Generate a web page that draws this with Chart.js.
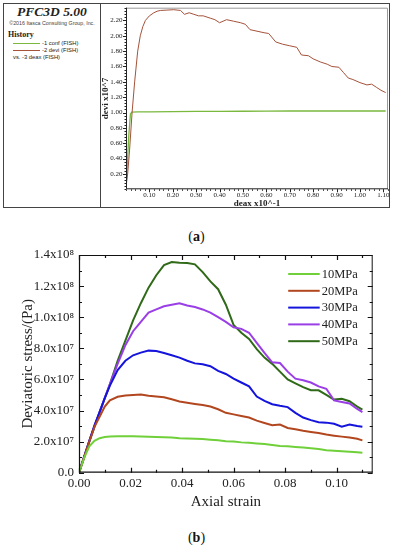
<!DOCTYPE html>
<html>
<head>
<meta charset="utf-8">
<script src="https://cdn.jsdelivr.net/npm/chart.js@4.4.0/dist/chart.umd.min.js"></script>
<style>
  body { margin: 0; width: 393px; height: 550px; background: #fff; position: relative; overflow: hidden; font-family: 'Liberation Serif', serif; color: #222; }
  #boxA { position: absolute; left: 3px; top: 3px; width: 387px; height: 205px; border: 1px solid #444; box-sizing: border-box; }
  #divider { position: absolute; left: 100px; top: 3px; width: 1px; height: 205px; background: #444; }
  .t { position: absolute; white-space: nowrap; }
  #pfc { left: 4px; width: 96px; top: 4px; text-align: center; font: italic bold 13.5px 'Liberation Serif'; }
  #copy { left: 4px; width: 96px; top: 20px; text-align: center; font: 5.3px 'Liberation Sans'; color: #444; }
  #hist { left: 8px; top: 30px; font: bold 8px 'Liberation Serif'; }
  .leg { font: 5.8px 'Liberation Sans'; left: 42px; }
  .sw { position: absolute; left: 13px; width: 27px; height: 1px; }
  #chartA { position: absolute; left: 100px; top: 0; }
  #chartB { position: absolute; left: 0; top: 240px; }
  .cap { position: absolute; width: 393px; text-align: center; font: 14px 'Liberation Serif'; color: #111; }
</style>
</head>
<body>
<div id="boxA"></div>
<div id="divider"></div>
<div class="t" id="pfc">PFC3D 5.00</div>
<div class="t" id="copy">©2016 Itasca Consulting Group, Inc.</div>
<div class="t" id="hist">History</div>
<div class="sw" id="swConf" style="top:43px"></div>
<div class="t leg" style="top:39.5px">-1 conf (FISH)</div>
<div class="sw" id="swDevi" style="top:50px"></div>
<div class="t leg" style="top:46.5px">-2 devi (FISH)</div>
<div class="t leg" style="left:13px;top:53.5px">vs. -3 deax (FISH)</div>
<canvas id="chartA" width="293" height="210"></canvas>
<div class="cap" style="top:229px">(<b>a</b>)</div>
<canvas id="chartB" width="393" height="280"></canvas>
<div class="cap" style="top:530px">(<b>b</b>)</div>
<script>
// ---- panel (a): PFC3D history ----
const deaxConf = [0, 0.005, 0.012, 0.019, 0.025, 0.05, 0.1, 0.2, 0.3, 0.4, 0.5, 0.6, 0.7, 0.8, 0.9, 1.0, 1.11];
const conf = [0.03, 0.3, 0.7, 0.98, 1.005, 1.01, 1.01, 1.012, 1.014, 1.015, 1.017, 1.018, 1.02, 1.02, 1.02, 1.02, 1.02];
const deaxDevi = [0, 0.007, 0.015, 0.026, 0.037, 0.05, 0.061, 0.072, 0.083, 0.1, 0.119, 0.133, 0.147, 0.175, 0.204, 0.233,
  0.25, 0.27, 0.29, 0.31, 0.33, 0.36, 0.38, 0.40, 0.43, 0.46, 0.49, 0.51, 0.53, 0.56, 0.59, 0.61, 0.64, 0.67, 0.70,
  0.73, 0.75, 0.78, 0.80, 0.83, 0.86, 0.88, 0.91, 0.93, 0.95, 0.97, 1.00, 1.03, 1.05, 1.07, 1.09, 1.11];
const devi = [0.03, 0.2, 0.5, 1.0, 1.4, 1.8, 2.0, 2.12, 2.2, 2.26, 2.3, 2.32, 2.33, 2.335, 2.34, 2.33,
  2.28, 2.30, 2.28, 2.26, 2.26, 2.23, 2.21, 2.17, 2.21, 2.19, 2.17, 2.15, 2.08, 2.06, 2.04, 2.03, 1.92, 1.89, 1.87,
  1.85, 1.75, 1.74, 1.70, 1.66, 1.63, 1.60, 1.59, 1.52, 1.45, 1.43, 1.39, 1.36, 1.37, 1.33, 1.29, 1.26];
const xTicksA = [0.1, 0.2, 0.3, 0.4, 0.5, 0.6, 0.7, 0.8, 0.9, 1.0, 1.1];
const yTicksA = [0.2, 0.4, 0.6, 0.8, 1.0, 1.2, 1.4, 1.6, 1.8, 2.0, 2.2];

// ---- panel (b): deviatoric stress (x10^7 Pa) vs axial strain ----
const strain = [0, 0.002, 0.004, 0.006, 0.008, 0.010, 0.012, 0.015, 0.018, 0.021, 0.024, 0.027, 0.030, 0.033,
  0.036, 0.039, 0.042, 0.045, 0.048, 0.051, 0.054, 0.057, 0.060, 0.063, 0.066, 0.069, 0.072, 0.075, 0.078,
  0.081, 0.084, 0.087, 0.090, 0.093, 0.096, 0.099, 0.102, 0.105, 0.108, 0.110];
const s10 = [0, 0.95, 1.7, 2.05, 2.22, 2.3, 2.33, 2.35, 2.35, 2.34, 2.33, 2.31, 2.30, 2.28, 2.26, 2.22, 2.20, 2.19,
  2.16, 2.12, 2.08, 2.03, 2.00, 1.95, 1.92, 1.88, 1.84, 1.78, 1.72, 1.70, 1.66, 1.62, 1.57, 1.52, 1.44, 1.41,
  1.38, 1.35, 1.32, 1.29];
const s20 = [0, 1.0, 2.0, 2.95, 3.6, 4.25, 4.65, 4.88, 4.97, 5.0, 5.03, 4.95, 4.9, 4.85, 4.72, 4.58, 4.5, 4.42,
  4.35, 4.26, 4.08, 3.85, 3.75, 3.65, 3.55, 3.35, 3.2, 3.05, 3.1, 2.88, 2.8, 2.7, 2.62, 2.55, 2.45, 2.38, 2.32,
  2.27, 2.18, 2.08];
const s30 = [0, 1.02, 2.05, 3.05, 3.9, 4.8, 5.6, 6.6, 7.2, 7.55, 7.72, 7.85, 7.82, 7.7, 7.55, 7.4, 7.2, 7.03,
  6.97, 6.85, 6.55, 6.35, 6.05, 5.8, 5.55, 4.9, 4.62, 4.4, 4.3, 4.22, 3.85, 3.55, 3.38, 3.25, 3.22, 3.15, 2.96,
  3.1, 3.0, 2.95];
const s40 = [0, 1.02, 2.04, 3.0, 3.9, 4.8, 5.7, 7.0, 8.2, 9.1, 9.7, 10.3, 10.5, 10.7, 10.8, 10.9, 10.75, 10.65,
  10.5, 10.3, 10.0, 9.7, 9.35, 9.25, 9.0, 8.35, 7.7, 7.1, 7.05, 6.5, 6.05, 5.95, 5.8, 5.55, 5.4, 4.65, 4.55,
  4.45, 4.1, 3.9];
const s50 = [0, 1.0, 2.0, 2.95, 3.9, 4.8, 5.7, 7.2, 8.5, 9.8, 10.9, 11.9, 12.7, 13.35, 13.55, 13.5, 13.48, 13.4,
  12.9, 12.3, 11.8, 10.8, 9.5, 9.0, 8.6, 7.95, 7.4, 7.0, 6.5, 6.0, 5.75, 5.5, 5.3, 5.3, 5.0, 4.7, 4.75, 4.6,
  4.25, 4.05];
const seriesNames = ['10MPa', '20MPa', '30MPa', '40MPa', '50MPa'];
const seriesColors = ['#6fd03a', '#b2471f', '#1414dc', '#9a3ee6', '#2f6a18'];
const xTicksB = [0, 0.02, 0.04, 0.06, 0.08, 0.10];
const yTicksB = [0, 2, 4, 6, 8, 10, 12, 14];
const yLabelsB = ['0.0', '2.0x10⁷', '4.0x10⁷', '6.0x10⁷', '8.0x10⁷', '1.0x10⁸', '1.2x10⁸', '1.4x10⁸'];

const colConf = '#7ab83e';
const colDevi = '#a4523a';
document.getElementById('swConf').style.background = colConf;
document.getElementById('swDevi').style.background = colDevi;

function pts(xs, ys) {
  return xs.map((x, i) => ({ x: x, y: ys[i] }));
}

// frame and tick marks drawn from the scales
const frameTicks = {
  id: 'frameTicks',
  afterDraw(chart, args, o) {
    const ctx = chart.ctx;
    const a = chart.chartArea;
    const sx = chart.scales.x, sy = chart.scales.y;
    ctx.save();
    ctx.lineWidth = 1;
    ctx.strokeStyle = o.topRightColor;
    ctx.beginPath();
    ctx.moveTo(a.left, a.top + 0.5); ctx.lineTo(a.right - 0.5, a.top + 0.5); ctx.lineTo(a.right - 0.5, a.bottom);
    ctx.stroke();
    ctx.strokeStyle = o.color;
    ctx.lineWidth = o.width;
    ctx.beginPath();
    ctx.moveTo(a.left + 0.5, a.top); ctx.lineTo(a.left + 0.5, a.bottom - 0.5); ctx.lineTo(a.right, a.bottom - 0.5);
    ctx.stroke();
    const d = o.inward ? 1 : -1;
    ctx.beginPath();
    const mark = (px, len, horiz) => {
      if (horiz) {
        ctx.moveTo(px, a.bottom); ctx.lineTo(px, a.bottom - d * len);
        if (o.allSides) { ctx.moveTo(px, a.top); ctx.lineTo(px, a.top + d * len); }
      } else {
        ctx.moveTo(a.left, px); ctx.lineTo(a.left + d * len, px);
        if (o.allSides) { ctx.moveTo(a.right, px); ctx.lineTo(a.right - d * len, px); }
      }
    };
    for (let v = 0; v <= sx.max + 1e-9; v += o.xMinor) mark(Math.round(sx.getPixelForValue(v)) + 0.5, o.minor, true);
    for (let v = 0; v <= sy.max + 1e-9; v += o.yMinor) mark(Math.round(sy.getPixelForValue(v)) + 0.5, o.minor, false);
    sx.ticks.forEach(t => mark(Math.round(sx.getPixelForValue(t.value)) + 0.5, o.major, true));
    sy.ticks.forEach(t => mark(Math.round(sy.getPixelForValue(t.value)) + 0.5, o.major, false));
    ctx.stroke();
    ctx.restore();
  }
};

// legend inside the plot, top right
const insideLegend = {
  id: 'insideLegend',
  afterDraw(chart, args, o) {
    if (!o.show) return;
    const ctx = chart.ctx;
    const a = chart.chartArea;
    ctx.save();
    ctx.font = o.font;
    ctx.textBaseline = 'middle';
    ctx.textAlign = 'left';
    chart.data.datasets.forEach((ds, i) => {
      const y = a.top + o.top + i * o.gap;
      const x0 = a.right - o.right;
      ctx.strokeStyle = ds.borderColor;
      ctx.lineWidth = ds.borderWidth;
      ctx.beginPath(); ctx.moveTo(x0, y); ctx.lineTo(x0 + o.line, y); ctx.stroke();
      ctx.fillStyle = '#222';
      ctx.fillText(ds.label, x0 + o.line + 2, y + 0.5);
    });
    ctx.restore();
  }
};

const serif = 'Liberation Serif';

new Chart(document.getElementById('chartA'), {
  type: 'line',
  data: {
    datasets: [
      { label: '-2 devi (FISH)', data: pts(deaxDevi, devi), borderColor: colDevi, borderWidth: 1, pointRadius: 0 },
      { label: '-1 conf (FISH)', data: pts(deaxConf, conf), borderColor: colConf, borderWidth: 1.3, pointRadius: 0 }
    ]
  },
  options: {
    responsive: false,
    animation: false,
    devicePixelRatio: 1,
    layout: { padding: { top: 4, right: 5, left: 0, bottom: 0 } },
    plugins: {
      legend: { display: false },
      tooltip: { enabled: false },
      frameTicks: { color: '#222', width: 1, topRightColor: '#999', inward: false, allSides: false,
        major: 3, minor: 1.5, xMinor: 0.02, yMinor: 0.04 },
      insideLegend: { show: false }
    },
    scales: {
      x: {
        type: 'linear', min: 0, max: 1.12,
        afterBuildTicks: s => { s.ticks = xTicksA.map(v => ({ value: v })); },
        afterFit: s => { s.height = 20.7; },
        grid: { display: false, drawTicks: false },
        border: { display: false },
        ticks: { font: { family: serif, size: 7 }, color: '#222', padding: 2, maxRotation: 0, autoSkip: false,
          callback: v => v.toFixed(2) },
        title: { display: true, text: 'deax x10^-1', font: { family: serif, size: 9, weight: 'bold' }, color: '#222',
          padding: { top: 0, bottom: 1 } }
      },
      y: {
        type: 'linear', min: 0, max: 2.366,
        afterBuildTicks: s => { s.ticks = yTicksA.map(v => ({ value: v })); },
        afterFit: s => { s.width = 26; },
        grid: { display: false, drawTicks: false },
        border: { display: false },
        ticks: { font: { family: serif, size: 7 }, color: '#222', padding: 3.5, autoSkip: false,
          callback: v => v.toFixed(2) },
        title: { display: true, text: 'devi x10^7', font: { family: serif, size: 9, weight: 'bold' }, color: '#222',
          padding: { top: 0, bottom: 0 } }
      }
    }
  },
  plugins: [frameTicks, insideLegend]
});

new Chart(document.getElementById('chartB'), {
  type: 'line',
  data: {
    datasets: [s10, s20, s30, s40, s50].map((s, i) => ({
      label: seriesNames[i],
      data: pts(strain, s),
      borderColor: seriesColors[i],
      borderWidth: 2,
      pointRadius: 0
    }))
  },
  options: {
    responsive: false,
    animation: false,
    devicePixelRatio: 1,
    layout: { padding: { top: 15, right: 20.3, left: 0, bottom: 0 } },
    plugins: {
      legend: { display: false },
      tooltip: { enabled: false },
      frameTicks: { color: '#111', width: 1.2, topRightColor: '#111', inward: true, allSides: true,
        major: 5, minor: 3, xMinor: 0.01, yMinor: 1 },
      insideLegend: { show: true, font: '12.5px ' + serif, top: 19, gap: 16.8, right: 84.5, line: 31.5 }
    },
    scales: {
      x: {
        type: 'linear', min: 0, max: 0.114,
        afterBuildTicks: s => { s.ticks = xTicksB.map(v => ({ value: v })); },
        afterFit: s => { s.height = 47.3; },
        grid: { display: false, drawTicks: false },
        border: { display: false },
        ticks: { font: { family: serif, size: 13 }, color: '#222', padding: 3, maxRotation: 0, autoSkip: false,
          callback: v => v.toFixed(2) },
        title: { display: true, text: 'Axial strain', font: { family: serif, size: 15 }, color: '#222',
          padding: { top: 0, bottom: 9.3 } }
      },
      y: {
        type: 'linear', min: 0, max: 14,
        afterBuildTicks: s => { s.ticks = yTicksB.map(v => ({ value: v })); },
        afterFit: s => { s.width = 79; },
        grid: { display: false, drawTicks: false },
        border: { display: false },
        ticks: { font: { family: serif, size: 13 }, color: '#222', padding: 5, autoSkip: false,
          callback: v => yLabelsB[yTicksB.indexOf(v)] },
        title: { display: true, text: 'Deviatoric stress/(Pa)', font: { family: serif, size: 15 }, color: '#222',
          padding: { top: 19, bottom: 0 } }
      }
    }
  },
  plugins: [frameTicks, insideLegend]
});
</script>
</body>
</html>
